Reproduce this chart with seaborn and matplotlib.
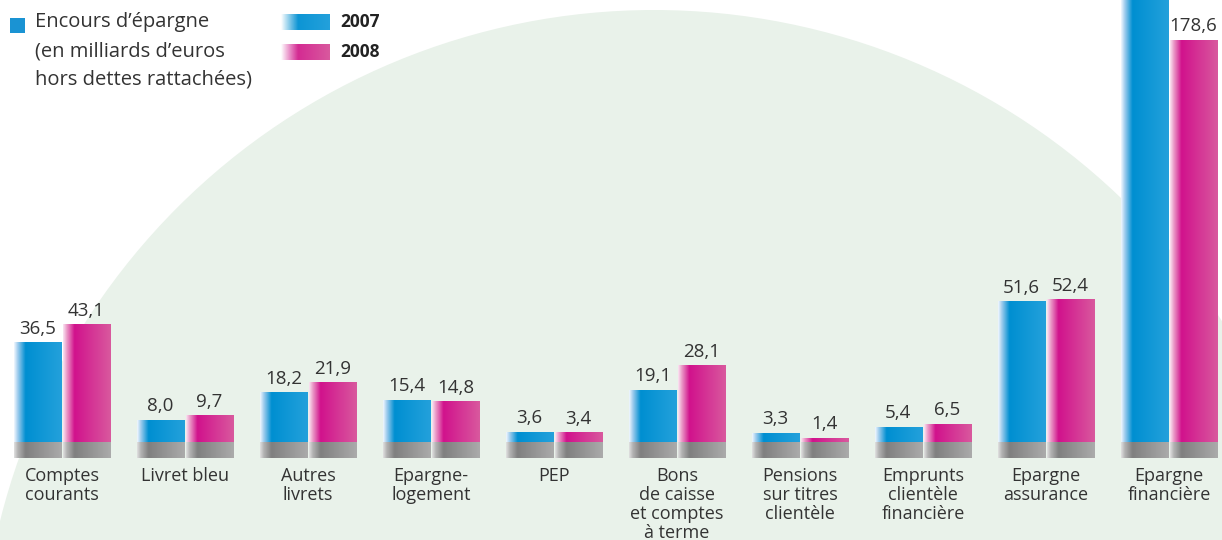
import numpy as np
import pandas as pd
import matplotlib
matplotlib.use("Agg")
import matplotlib.pyplot as plt
import matplotlib.transforms as mtransforms
from matplotlib.patches import Circle, Rectangle
import seaborn as sns

# ---------------- data ----------------
categories = ["Comptes\ncourants", "Livret bleu", "Autres\nlivrets", "Epargne-\nlogement",
              "PEP", "Bons\nde caisse\net comptes\nà terme", "Pensions\nsur titres\nclientèle",
              "Emprunts\nclientèle\nfinancière", "Epargne\nassurance", "Epargne\nfinancière"]
years = ["2007", "2008"]
values_2007 = [36.5, 8.0, 18.2, 15.4, 3.6, 19.1, 3.3, 5.4, 51.6, 205.0]
values_2008 = [43.1, 9.7, 21.9, 14.8, 3.4, 28.1, 1.4, 6.5, 52.4, 178.6]
legend_title = ["Encours d’épargne", "(en milliards d’euros", "hors dettes rattachées)"]

df = pd.DataFrame({
    "cat": categories * 2,
    "year": [years[0]] * len(categories) + [years[1]] * len(categories),
    "val": values_2007 + values_2008,
})
broken_cat = categories[-1]
df_main = df[df["cat"] != broken_cat]
df_last = df[df["cat"] == broken_cat]

# ---------------- style ----------------
FONT = ["Open Sans", "DejaVu Sans"]
plt.rcParams["font.family"] = FONT
TXT = "#333333"
W, H = 1222, 540
BASE_PX = 442          # pixel row of the zero line
GRAY_PX = 16           # depth of the grey plinth
SCALE_MAIN = 2.72      # px per unit, main groups
SCALE_LAST = 402 / 178.6   # px per unit, last (broken) group

blue_main, mag_main = "#0a93d3", "#d0148c"
grad_stops = {
    "2007": [(0.0, (0.95, 0.97, 1.0)), (0.08, (0.62, 0.80, 0.93)), (0.24, (0.0, 0.56, 0.82)), (1.0, (0.14, 0.63, 0.86))],
    "2008": [(0.0, (0.98, 0.90, 0.95)), (0.08, (0.92, 0.60, 0.78)), (0.24, (0.82, 0.07, 0.55)), (1.0, (0.85, 0.35, 0.62))],
    "gray": [(0.0, (0.88, 0.88, 0.88)), (0.08, (0.70, 0.70, 0.70)), (0.24, (0.50, 0.50, 0.50)), (1.0, (0.67, 0.67, 0.67))],
}


def gradient(stops, n=200, alpha_stops=None):
    xs = np.linspace(0, 1, n)
    pos = [s[0] for s in stops]
    cols = np.array([s[1] for s in stops])
    rgb = np.stack([np.interp(xs, pos, cols[:, k]) for k in range(3)], axis=-1)
    if alpha_stops is not None:
        a = np.interp(xs, [s[0] for s in alpha_stops], [s[1] for s in alpha_stops])
        rgb = np.concatenate([rgb, a[:, None]], axis=-1)
    return rgb[np.newaxis, :, :]


fig = plt.figure(figsize=(W / 100, H / 100), dpi=100)
fig.patch.set_facecolor("white")

bg = fig.add_axes([0, 0, 1, 1], zorder=0)
bg.set_xlim(0, W)
bg.set_ylim(H, 0)
bg.axis("off")
bg.add_patch(Circle((654, 684), 674, color="#e9f2ea", lw=0))

ax1 = fig.add_axes([0, 0, 1, 1], zorder=1)
ax1.patch.set_alpha(0)
palette = {years[0]: blue_main, years[1]: mag_main}
sns.barplot(data=df_main, x="cat", y="val", hue="year", order=categories, hue_order=years,
            palette=palette, width=0.8, gap=0.04, errorbar=None, legend=False, ax=ax1)
ax2 = ax1.twinx()
ax2.set_zorder(2)
ax2.patch.set_alpha(0)
sns.barplot(data=df_last, x="cat", y="val", hue="year", order=categories, hue_order=years,
            palette=palette, width=0.8, gap=0.04, errorbar=None, legend=False, ax=ax2)

xlim = (-62 / 123, (W - 62) / 123)
lims = {ax1: (-(H - BASE_PX) / SCALE_MAIN, BASE_PX / SCALE_MAIN),
        ax2: (-(H - BASE_PX) / SCALE_LAST, BASE_PX / SCALE_LAST)}
scales = {ax1: SCALE_MAIN, ax2: SCALE_LAST}

for ax in (ax1, ax2):
    ylo, yhi = lims[ax]
    gray_depth = GRAY_PX / scales[ax]
    for p in list(ax.patches):
        h = p.get_height()
        if not np.isfinite(h) or h == 0:
            continue
        x0, w = p.get_x(), p.get_width()
        xc = x0 + w / 2
        key = years[0] if xc < round(xc) else years[1]
        top = min(h, yhi)
        ax.imshow(gradient(grad_stops[key]), extent=[x0, x0 + w, 0, top], aspect="auto",
                  interpolation="bilinear", zorder=3)
        ax.imshow(gradient(grad_stops["gray"]), extent=[x0, x0 + w, -gray_depth, 0], aspect="auto",
                  interpolation="bilinear", zorder=3)
        p.set_visible(False)
        if h < yhi * 0.97:
            ax.annotate(f"{h:.1f}".replace(".", ","), (xc, h), xytext=(0, 3.5),
                        textcoords="offset points", ha="center", va="bottom",
                        fontsize=13.5, color=TXT, zorder=5)
    ax.set_ylim(ylo, yhi)
    ax.set_xlim(*xlim)
    ax.axis("off")

# category labels (x in category units, y in pixels)
trans = mtransforms.blended_transform_factory(ax1.transData, bg.transData)
for i, c in enumerate(categories):
    bg.text(i, 467, c, transform=trans, ha="center", va="top", fontsize=13,
            color=TXT, linespacing=1.07, multialignment="center")

# legend block
bg.add_patch(Rectangle((10, 18), 15, 15, color="#1a93d3", lw=0))
for k, line in enumerate(legend_title):
    bg.text(35, 22 + k * 29, line, ha="left", va="center", fontsize=14.5, color=TXT)
for k, yr in enumerate(years):
    yc = 22 + k * 30
    sw = gradient([(0.0, grad_stops[yr][2][1]), (1.0, grad_stops[yr][3][1])],
                  alpha_stops=[(0.0, 0.0), (0.35, 1.0), (1.0, 1.0)])
    bg.imshow(sw, extent=(281, 330, yc + 8, yc - 8), aspect="auto", interpolation="bilinear", zorder=2)
    bg.text(340, yc, yr, ha="left", va="center", fontsize=12.5, fontweight="bold", color="#222222")
bg.set_xlim(0, W)
bg.set_ylim(H, 0)

fig.savefig("out.png", dpi=100, facecolor="white")
